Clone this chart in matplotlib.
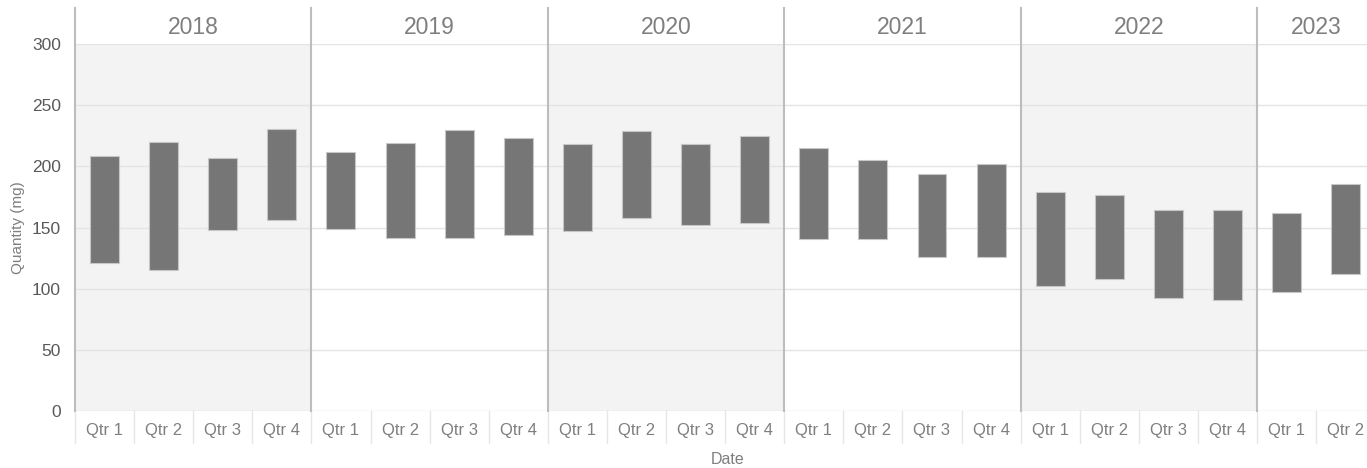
import matplotlib.pyplot as plt
from matplotlib.transforms import blended_transform_factory

# Data: low/high range for each quarter
years = ['2018', '2019', '2020', '2021', '2022', '2023']
quarters_per_year = [4, 4, 4, 4, 4, 2]
quarter_labels = ['Qtr 1', 'Qtr 2', 'Qtr 3', 'Qtr 4'] * 5 + ['Qtr 1', 'Qtr 2']
low = [120.7, 114.9, 147.8, 156.0,
       148.7, 141.1, 141.1, 143.5,
       146.8, 157.9, 152.2, 153.9,
       140.9, 140.7, 125.9, 126.2,
       102.5, 108.2, 92.7, 90.8,
       97.6, 112.3]
high = [208.4, 220.1, 206.5, 230.3,
        212.0, 218.7, 229.3, 222.8,
        218.2, 228.5, 218.2, 224.5,
        215.3, 205.2, 193.5, 202.3,
        179.4, 176.9, 164.4, 164.4,
        161.8, 185.5]

plt.rcParams['font.family'] = ['Liberation Sans', 'DejaVu Sans']

W, H = 1367, 468
fig = plt.figure(figsize=(W / 100, H / 100), dpi=100)
ax = fig.add_axes([75 / W, 57 / H, (W - 75) / W, 367 / H])

x = list(range(len(low)))
heights = [h - l for h, l in zip(high, low)]

# alternating year shading
start = 0
for i, n in enumerate(quarters_per_year):
    if i % 2 == 0:
        ax.axvspan(start - 0.5, start + n - 0.5, color='#f3f3f3', zorder=0, lw=0)
    start += n

# gridlines
for v in range(50, 301, 50):
    ax.axhline(v, color='#e4e4e4', lw=1, zorder=1)
ax.axhline(0, color='#dcdcdc', lw=1, zorder=1)

ax.bar(x, heights, bottom=low, width=0.49, color='#6f6f6f', alpha=0.95,
       edgecolor='#c8c8c8', linewidth=0.8, zorder=3)

ax.set_xlim(-0.5, 21.36)
ax.set_ylim(0, 300)

for s in ax.spines.values():
    s.set_visible(False)

ax.set_yticks(range(0, 301, 50))
ax.tick_params(axis='y', length=0, labelsize=12.5, labelcolor='#595959', pad=10)
ax.set_xticks([])

trans = blended_transform_factory(ax.transData, ax.transAxes)
top_frac = (411 - 8) / 367
low_frac = -32 / 367

# quarter separators below the axis and labels
for i, lab in enumerate(quarter_labels):
    ax.plot([i - 0.5, i - 0.5], [low_frac, 0], transform=trans, color='#e6e6e6',
            lw=1, clip_on=False)
    ax.text(i, -20 / 367, lab, transform=trans, ha='center', va='center',
            fontsize=12, color='#7f7f7f')

# year separators and header labels
start = 0
for i, n in enumerate(quarters_per_year):
    ax.plot([start - 0.5, start - 0.5], [0, top_frac], transform=trans,
            color='#bdbdbd', lw=1.5, clip_on=False, zorder=4)
    ax.text(start + n / 2 - 0.5, 1 + 17 / 367, years[i], transform=trans,
            ha='center', va='center', fontsize=16.5, color='#7f7f7f')
    start += n

fig.text(18 / W, 1 - 228 / H, 'Quantity (mg)', rotation=90, ha='center',
         va='center', fontsize=11, color='#7f7f7f')
fig.text(728 / W, 1 - 460 / H, 'Date', ha='center', va='center',
         fontsize=11.5, color='#7f7f7f')

fig.savefig('out.png', dpi=100)
